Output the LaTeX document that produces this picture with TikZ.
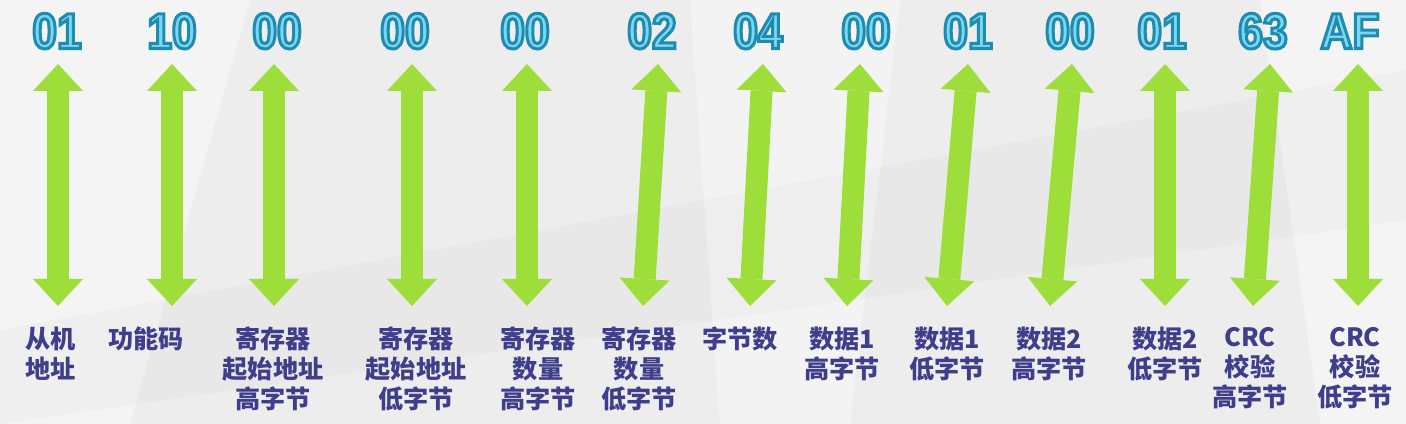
\documentclass[tikz,border=0pt]{standalone}
\usepackage{fontspec}
\usepackage{tikz}
\usetikzlibrary{arrows.meta}
\newfontfamily\hexfont{Liberation Sans Bold}[FakeStretch=0.88,FakeBold=6]
\newfontfamily\cjk{Noto Sans CJK SC}
\definecolor{ArrowGreen}{RGB}{158,222,58}
\definecolor{LabelBlue}{RGB}{62,62,140}
\definecolor{BackGray}{RGB}{237,237,238}

\begin{document}
\begin{tikzpicture}[x=0.3mm,y=-0.3mm]
  \useasboundingbox (0,0) rectangle (1406,424);
  \tikzset{HexStyle/.style = {anchor       = base,
                              inner sep    = 0pt,
                              font         = \hexfont\fontsize{43}{43}\selectfont,
                              execute at begin node = \special{pdf:bcolor [0.49 0.84 0.95] [0.118 0.549 0.686]},
                              execute at end node   = \special{pdf:ecolor}}}

  \tikzset{LabelStyle/.style = {anchor     = north,
                                align      = center,
                                inner sep  = 0pt,
                                text       = LabelBlue,
                                font       = \cjk\bfseries\fontsize{21.5}{25.6}\selectfont}}

  \tikzset{ArrowStyle/.style = {draw       = ArrowGreen,
                                line width = 6.6mm,
                                {Triangle[length=8.1mm,width=15mm,line width=0pt]}-{Triangle[length=8.1mm,width=15mm,line width=0pt]}}}

  % background facets
  \fill[BackGray] (0,0) rectangle (1406,424);
  \fill[white,opacity=0.4] (0,0) -- (250,0) -- (130,424) -- (0,424) -- cycle;
  \fill[white,opacity=0.35] (690,0) -- (900,0) -- (850,424) -- (720,424) -- cycle;
  \fill[white,opacity=0.4] (1260,0) -- (1406,0) -- (1406,424) -- (1320,424) -- cycle;
  \fill[black,opacity=0.02] (0,330) -- (1406,70) -- (1406,220) -- (0,424) -- cycle;

     \node[HexStyle] (H_1) at (57,48.5) {01};
     \node[HexStyle] (H_2) at (172,48.5) {10};
     \node[HexStyle] (H_3) at (277,48.5) {00};
     \node[HexStyle] (H_4) at (405,48.5) {00};
     \node[HexStyle] (H_5) at (525,48.5) {00};
     \node[HexStyle] (H_6) at (652,48.5) {02};
     \node[HexStyle] (H_7) at (758,48.5) {04};
     \node[HexStyle] (H_8) at (866,48.5) {00};
     \node[HexStyle] (H_9) at (968,48.5) {01};
     \node[HexStyle] (H_10) at (1070,48.5) {00};
     \node[HexStyle] (H_11) at (1162,48.5) {01};
     \node[HexStyle] (H_12) at (1263,48.5) {63};
     \node[HexStyle] (H_13) at (1350,48.5) {AF};

     \node[LabelStyle] (L_1) at (51,327) {从机\\地址};
     \node[LabelStyle] (L_2) at (146,327) {功能码};
     \node[LabelStyle] (L_3) at (273,327) {寄存器\\起始地址\\高字节};
     \node[LabelStyle] (L_4) at (416,327) {寄存器\\起始地址\\低字节};
     \node[LabelStyle] (L_5) at (538,327) {寄存器\\数量\\高字节};
     \node[LabelStyle] (L_6) at (639,327) {寄存器\\数量\\低字节};
     \node[LabelStyle] (L_7) at (740,327) {字节数};
     \node[LabelStyle] (L_8) at (842,327) {数据1\\高字节};
     \node[LabelStyle] (L_9) at (947,327) {数据1\\低字节};
     \node[LabelStyle] (L_10) at (1049,327) {数据2\\高字节};
     \node[LabelStyle] (L_11) at (1165,327) {数据2\\低字节};
     \node[LabelStyle] (L_12) at (1250,327) {CRC\\校验\\高字节};
     \node[LabelStyle] (L_13) at (1355,327) {CRC\\校验\\低字节};

     \coordinate (T_1) at (58,64);    \coordinate (B_1) at (58,306);
     \coordinate (T_2) at (172,64);   \coordinate (B_2) at (172,306);
     \coordinate (T_3) at (274,64);   \coordinate (B_3) at (274,306);
     \coordinate (T_4) at (412,64);   \coordinate (B_4) at (412,306);
     \coordinate (T_5) at (527,64);   \coordinate (B_5) at (527,306);
     \coordinate (T_6) at (658,64);   \coordinate (B_6) at (643,306);
     \coordinate (T_7) at (763,64);   \coordinate (B_7) at (750,306);
     \coordinate (T_8) at (860,64);   \coordinate (B_8) at (847,306);
     \coordinate (T_9) at (968,64);   \coordinate (B_9) at (947,306);
     \coordinate (T_10) at (1072,64); \coordinate (B_10) at (1050,306);
     \coordinate (T_11) at (1165,64); \coordinate (B_11) at (1165,306);
     \coordinate (T_12) at (1270,64); \coordinate (B_12) at (1253,306);
     \coordinate (T_13) at (1358,64); \coordinate (B_13) at (1358,306);

     \draw[ArrowStyle](T_1) to (B_1);
     \draw[ArrowStyle](T_2) to (B_2);
     \draw[ArrowStyle](T_3) to (B_3);
     \draw[ArrowStyle](T_4) to (B_4);
     \draw[ArrowStyle](T_5) to (B_5);
     \draw[ArrowStyle](T_6) to (B_6);
     \draw[ArrowStyle](T_7) to (B_7);
     \draw[ArrowStyle](T_8) to (B_8);
     \draw[ArrowStyle](T_9) to (B_9);
     \draw[ArrowStyle](T_10) to (B_10);
     \draw[ArrowStyle](T_11) to (B_11);
     \draw[ArrowStyle](T_12) to (B_12);
     \draw[ArrowStyle](T_13) to (B_13);
     %\draw[ArrowStyle](H_1) to (L_1);
\end{tikzpicture}
\end{document}
